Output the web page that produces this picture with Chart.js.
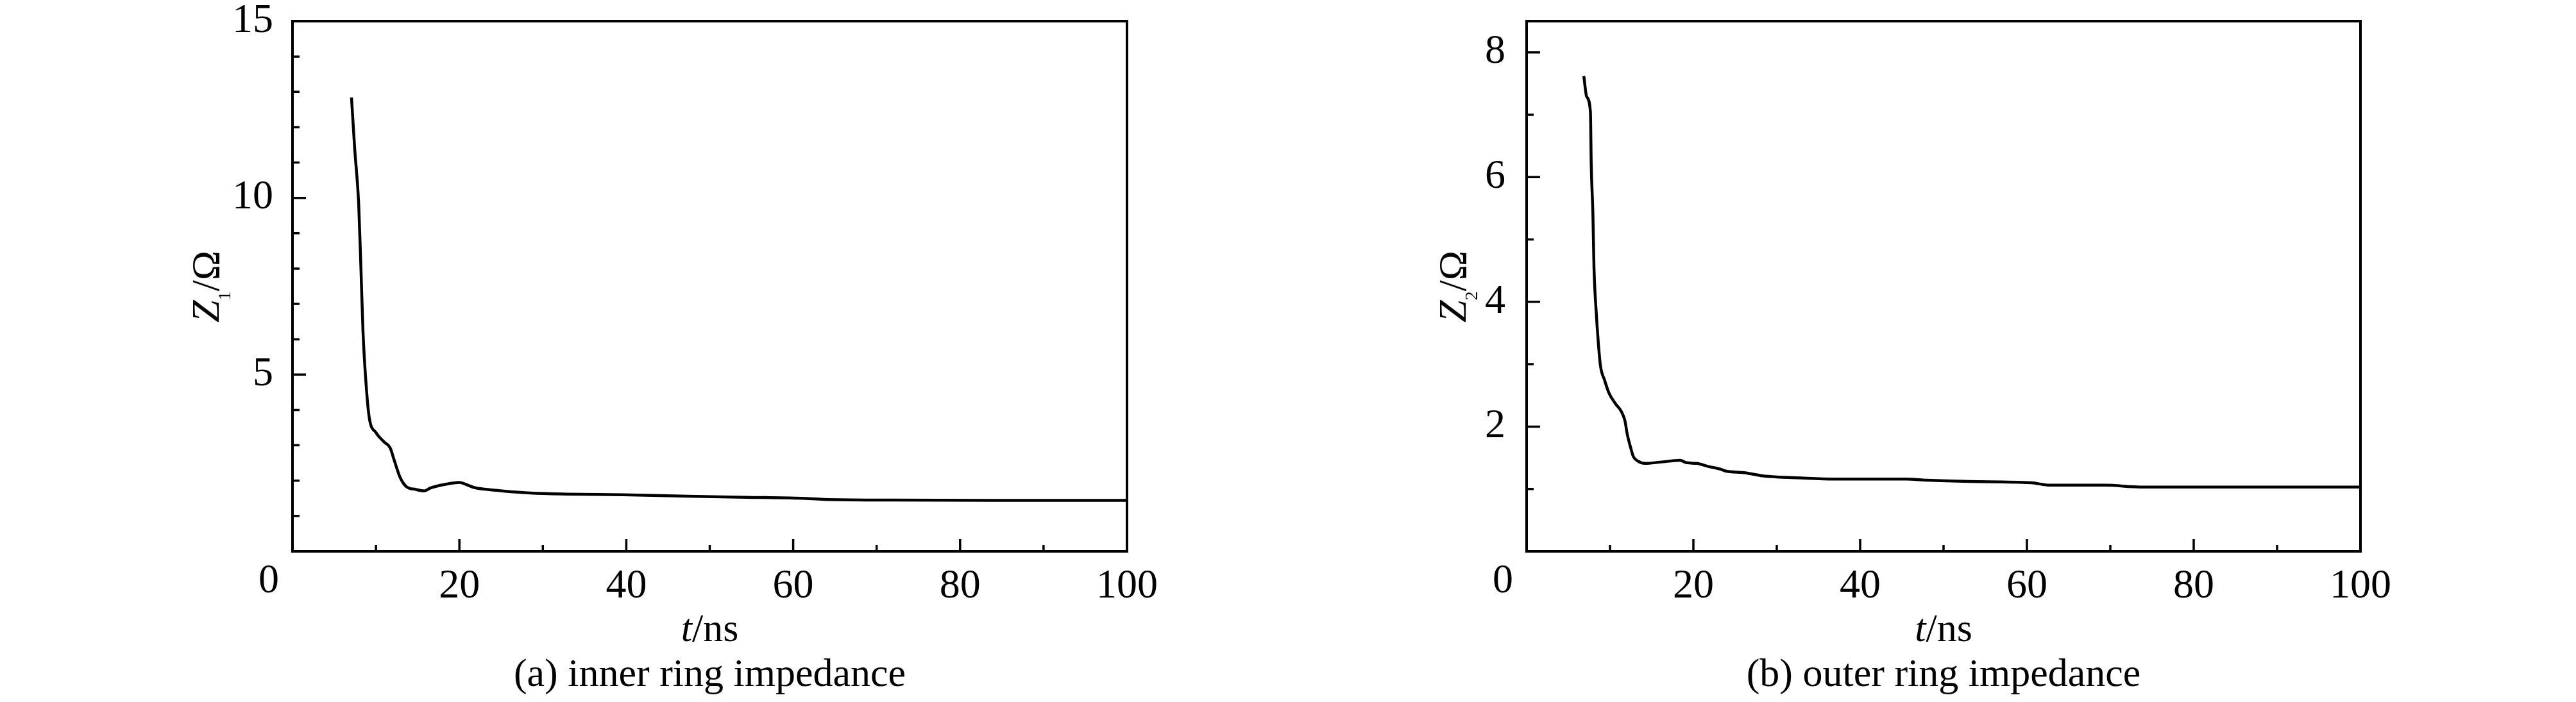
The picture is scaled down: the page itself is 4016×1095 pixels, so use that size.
<!DOCTYPE html>
<html><head><meta charset="utf-8">
<script src="https://cdn.jsdelivr.net/npm/chart.js@4.4.1/dist/chart.umd.min.js"></script>
<style>
html,body{margin:0;padding:0;background:#fff;width:4016px;height:1095px;overflow:hidden}
#wrap{position:relative;width:4016px;height:1095px;background:#fff}
canvas{position:absolute;top:0}
.t{position:absolute;font-family:'Liberation Serif','Times New Roman',serif;color:#000;white-space:nowrap;line-height:1;font-size:62px}
.rot{transform:translate(-50%,-50%) rotate(-90deg)}
.hc{transform:translateX(-50%)}
.sub{font-size:28px;position:relative;top:18px}
</style></head><body>
<div id="wrap">
<canvas id="c1" width="2008" height="1095" style="left:0px"></canvas>
<canvas id="c2" width="2008" height="1095" style="left:2008px"></canvas>
<div class="t hc" id="xt1"><i>t</i>/ns</div>
<div class="t hc" id="cap1">(a) inner ring impedance</div>
<div class="t rot" id="yt1"><i>Z</i><span class="sub">1</span>/Ω</div>
<div class="t hc" id="xt2"><i>t</i>/ns</div>
<div class="t hc" id="cap2">(b) outer ring impedance</div>
<div class="t rot" id="yt2"><i>Z</i><span class="sub">2</span>/Ω</div>
</div>
<script>
// ---- data ----
const tInner = [7.07, 7.45, 7.93, 8.2, 8.45, 8.83, 9.2, 10.0, 11.0, 11.7, 12.2, 12.9, 13.6, 14.8, 15.8, 16.5, 18.2, 20.0, 20.6, 21.7, 23.4, 25.1, 28.5, 32.8, 39.6, 47.3, 54.4, 61.0, 63.7, 71.8, 85.0, 100.0];
const zInner = [12.84, 11.4, 9.84, 8.02, 6.21, 4.69, 3.78, 3.36, 3.09, 2.93, 2.57, 2.09, 1.84, 1.75, 1.71, 1.79, 1.89, 1.95, 1.91, 1.81, 1.75, 1.71, 1.65, 1.62, 1.60, 1.56, 1.53, 1.50, 1.47, 1.45, 1.44, 1.44];

const tOuter = [6.86, 7.2, 7.65, 7.75, 7.95, 8.08, 8.33, 8.59, 8.85, 9.36, 9.87, 10.64, 11.41, 11.8, 12.05, 12.44, 12.8, 13.3, 14.2, 16.0, 18.4, 19.2, 20.4, 21.8, 23.2, 23.8, 26.2, 28.3, 30.4, 32.3, 36.9, 45.5, 48.0, 53.1, 60.5, 62.8, 69.4, 73.6, 100.0];
const zOuter = [7.62, 7.29, 7.05, 6.2, 5.41, 4.55, 3.87, 3.36, 2.98, 2.74, 2.54, 2.37, 2.23, 2.09, 1.89, 1.68, 1.52, 1.45, 1.41, 1.43, 1.46, 1.42, 1.41, 1.36, 1.32, 1.29, 1.26, 1.21, 1.19, 1.18, 1.16, 1.16, 1.14, 1.12, 1.10, 1.06, 1.06, 1.03, 1.03];

// ---- axes ----
const xLabels = [20, 40, 60, 80, 100];
const xMajor = [20, 40, 60, 80];
const xMinor = [10, 30, 50, 70, 90];
const yLabelsInner = [5, 10, 15];
const yMajorInner = [5, 10];
const yMinorInner = [1, 2, 3, 4, 6, 7, 8, 9, 11, 12, 13, 14];
const yLabelsOuter = [2, 4, 6, 8];
const yMajorOuter = [2, 4, 6, 8];
const yMinorOuter = [1, 3, 5, 7];

const FONT = "'Liberation Serif', 'Times New Roman', serif";
const TICK_SIZE = 64;

const framePlugin = {
  id: 'frame',
  afterDraw(chart, args, o) {
    const {ctx, chartArea: a} = chart;
    const x = chart.scales.x, y = chart.scales.y;
    ctx.save();
    ctx.strokeStyle = '#000';
    ctx.lineWidth = 4;
    ctx.strokeRect(a.left, a.top, a.right - a.left, a.bottom - a.top);
    ctx.lineWidth = 3.5;
    ctx.beginPath();
    o.xMajor.forEach(v => { const p = x.getPixelForValue(v); ctx.moveTo(p, a.bottom); ctx.lineTo(p, a.bottom - 19); });
    o.xMinor.forEach(v => { const p = x.getPixelForValue(v); ctx.moveTo(p, a.bottom); ctx.lineTo(p, a.bottom - 10); });
    o.yMajor.forEach(v => { const p = y.getPixelForValue(v); ctx.moveTo(a.left, p); ctx.lineTo(a.left + 21, p); });
    o.yMinor.forEach(v => { const p = y.getPixelForValue(v); ctx.moveTo(a.left, p); ctx.lineTo(a.left + 11, p); });
    ctx.stroke();
    // origin label "0", set left of the corner as in the reference
    ctx.fillStyle = '#000';
    ctx.font = TICK_SIZE + 'px ' + FONT;
    ctx.textAlign = 'center';
    ctx.textBaseline = 'middle';
    ctx.fillText('0', x.getPixelForValue(0) - 37, x.top + o.xPad + TICK_SIZE * 0.6);
    ctx.restore();
  }
};

function makeChart(id, ts, zs, yMax, yLabels, yMajor, yMinor, yWidth, yPad, padRight) {
  const pts = ts.map((t, i) => ({x: t, y: zs[i]}));
  const xPad = 9;
  return new Chart(document.getElementById(id), {
    type: 'line',
    data: { datasets: [{ data: pts, borderColor: '#000', borderWidth: 4.5, pointRadius: 0,
      cubicInterpolationMode: 'monotone', fill: false }] },
    options: {
      responsive: false, animation: false, devicePixelRatio: 1,
      layout: { padding: { left: 0, right: padRight, top: 33, bottom: 0 } },
      plugins: { legend: { display: false }, tooltip: { enabled: false },
        frame: { xMajor, xMinor, yMajor, yMinor, xPad } },
      scales: {
        x: { type: 'linear', min: 0, max: 100,
          grid: { display: false }, border: { display: false },
          ticks: { color: '#000', padding: xPad, maxRotation: 0, autoSkip: false,
            font: { family: FONT, size: TICK_SIZE, lineHeight: 1.2 } },
          afterBuildTicks: s => { s.ticks = xLabels.map(v => ({value: v})); },
          afterFit: s => { s.height = 235; s.paddingLeft = 0; s.paddingRight = 0; } },
        y: { type: 'linear', min: 0, max: yMax,
          grid: { display: false }, border: { display: false },
          ticks: { color: '#000', padding: yPad, autoSkip: false,
            font: { family: FONT, size: TICK_SIZE, lineHeight: 1.2 } },
          afterBuildTicks: s => { s.ticks = yLabels.map(v => ({value: v})); },
          afterFit: s => { s.width = yWidth; s.paddingTop = 0; s.paddingBottom = 0; } }
      }
    },
    plugins: [framePlugin]
  });
}

const ch1 = makeChart('c1', tInner, zInner, 15, yLabelsInner, yMajorInner, yMinorInner, 456, 22, 251);
const ch2 = makeChart('c2', tOuter, zOuter, 8.5, yLabelsOuter, yMajorOuter, yMinorOuter, 372, 25, 336);

function place(ch, off, xt, cap, yt, yOff) {
  const a = ch.chartArea;
  const cx = off + (a.left + a.right) / 2;
  const e1 = document.getElementById(xt); e1.style.left = cx + 'px'; e1.style.top = '948px';
  const e2 = document.getElementById(cap); e2.style.left = cx + 'px'; e2.style.top = '1018px';
  const e3 = document.getElementById(yt); e3.style.left = (off + a.left - yOff) + 'px'; e3.style.top = ((a.top + a.bottom) / 2) + 'px';
}
place(ch1, 0, 'xt1', 'cap1', 'yt1', 136);
place(ch2, 2008, 'xt2', 'cap2', 'yt2', 116);
</script>
</body></html>
